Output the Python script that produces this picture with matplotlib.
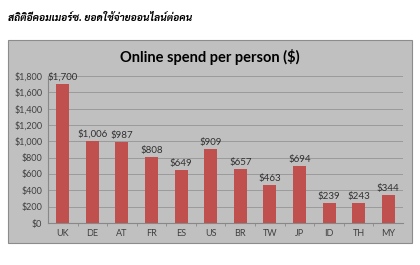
import matplotlib.pyplot as plt
from matplotlib.patches import Rectangle

countries = ['UK', 'DE', 'AT', 'FR', 'ES', 'US', 'BR', 'TW', 'JP', 'ID', 'TH', 'MY']
spend = [1700, 1006, 987, 808, 649, 909, 657, 463, 694, 239, 243, 344]
yticks = list(range(0, 1801, 200))

fig = plt.figure(figsize=(4.2, 2.65), dpi=100)
fig.patch.set_facecolor('white')

# grey chart panel behind the axes
fig.patches.append(Rectangle((8/420, 1-243/265), 404/420, 203/265,
                             transform=fig.transFigure, facecolor='#c0c0c0',
                             edgecolor='#8c8c8c', linewidth=0.8, zorder=-1))

fig.text(8/420, 1-18/265, 'สถิติอีคอมเมอร์ซ. ยอดใช้จ่ายออนไลน์ต่อคน',
         family=['Sarabun', 'DejaVu Sans'], fontweight='bold', style='italic',
         fontsize=7.3, va='center', ha='left', color='black')

ax = fig.add_axes([48/420, 1-223/265, 355/420, 147/265])
ax.set_zorder(2)
ax.set_facecolor('none')
x = range(len(countries))
ax.bar(x, spend, width=0.44, color='#c0504d', zorder=3)
for i, v in enumerate(spend):
    ax.text(i, v + 25, '${:,}'.format(v), ha='center', va='bottom',
            fontsize=7, color='#303030', family='Lato')

ax.set_xlim(-0.5, len(countries) - 0.5)
ax.set_ylim(0, 1800)
ax.set_yticks(yticks)
ax.set_yticklabels(['${:,}'.format(t) for t in yticks])
ax.set_xticks(list(x))
ax.set_xticklabels(countries)
ax.set_xticks([i + 0.5 for i in range(len(countries) - 1)], minor=True)
ax.grid(axis='y', color='#9a9a9a', linewidth=0.7, zorder=0)
for s in ['top', 'right']:
    ax.spines[s].set_visible(False)
ax.spines['left'].set_color('#888888')
ax.spines['bottom'].set_color('#888888')
ax.tick_params(axis='both', labelsize=6.5, colors='#404040', length=0, pad=4)
ax.tick_params(axis='x', which='minor', length=2, color='#888888')
for lab in ax.get_xticklabels() + ax.get_yticklabels():
    lab.set_family('Lato')

fig.text(210/420, 1-57/265, 'Online spend per person ($)', ha='center', va='center',
         fontsize=10.5, fontweight='bold', family='Lato', color='black', zorder=3)

fig.savefig('out.png', dpi=100, facecolor='white')
